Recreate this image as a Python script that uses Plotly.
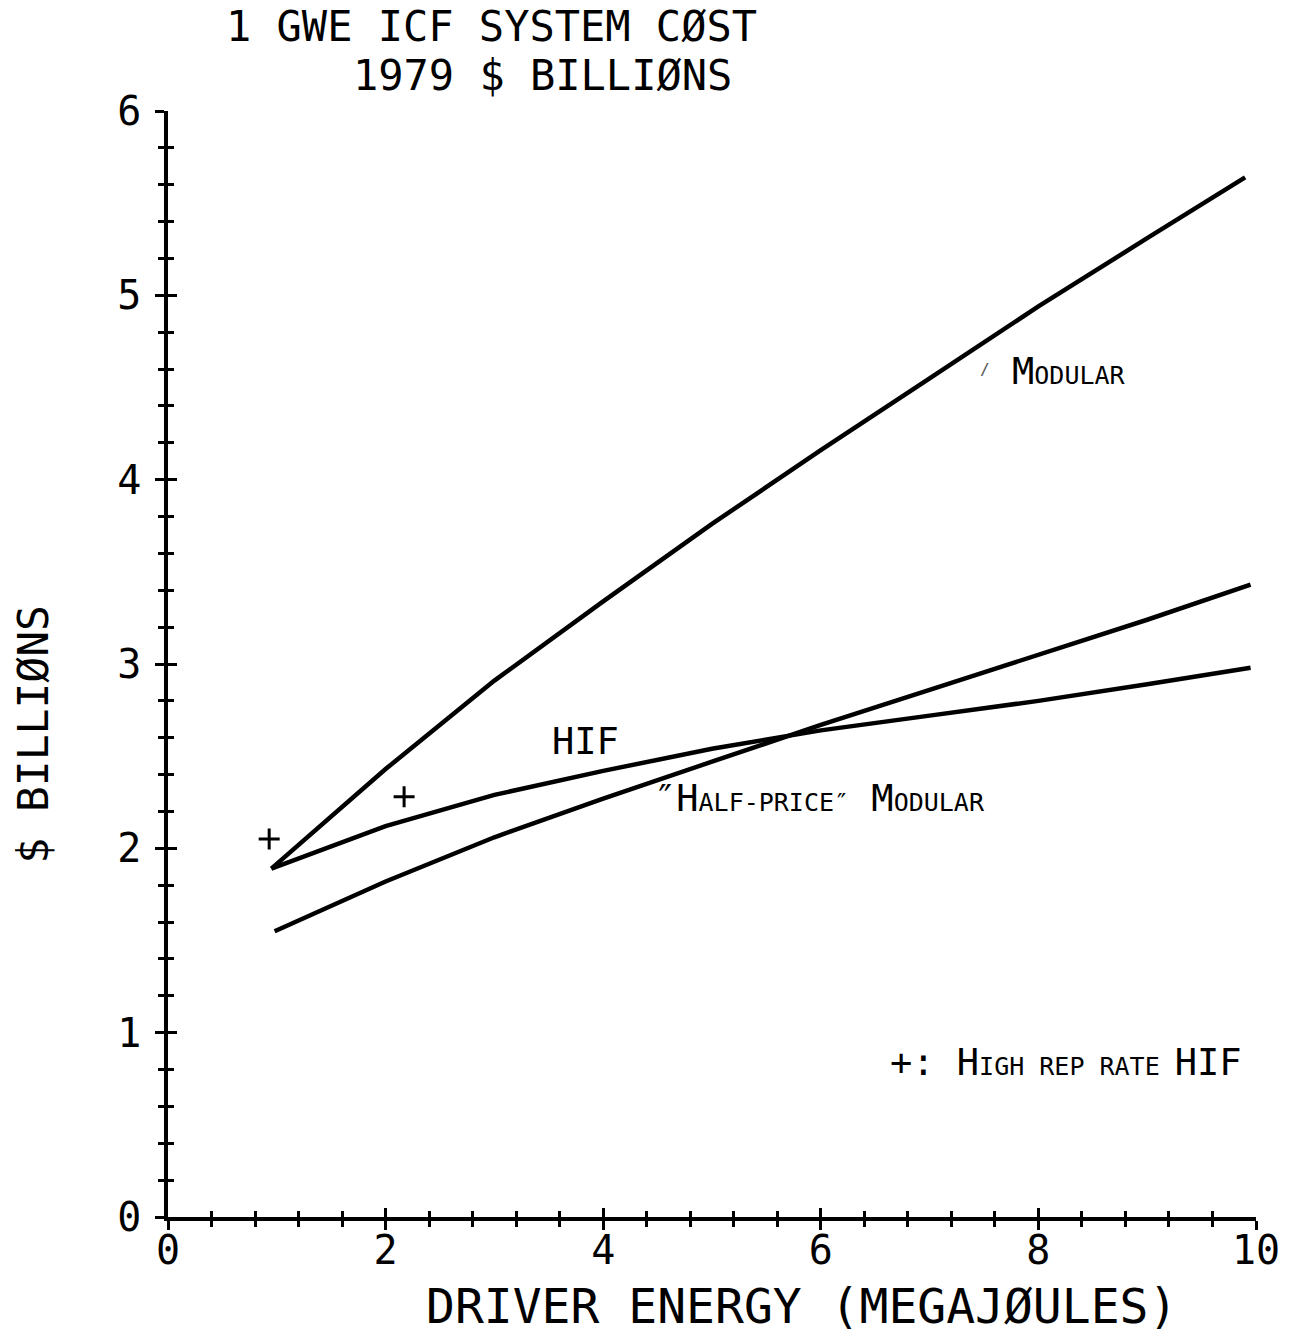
import plotly.graph_objects as go

# ---- data ----
modular_x = [0.95, 2, 3, 4, 5, 6, 7, 8, 9, 9.90]
modular_y = [1.89, 2.43, 2.91, 3.34, 3.76, 4.16, 4.55, 4.94, 5.31, 5.64]

hif_x = [0.95, 2, 3, 4, 5, 6, 7, 8, 9, 9.95]
hif_y = [1.89, 2.12, 2.29, 2.42, 2.54, 2.64, 2.72, 2.80, 2.89, 2.98]

half_x = [0.98, 2, 3, 4, 5, 6, 7, 8, 9, 9.95]
half_y = [1.55, 1.82, 2.06, 2.27, 2.47, 2.67, 2.86, 3.05, 3.24, 3.43]

highrep_x = [0.93, 2.17]
highrep_y = [2.05, 2.28]

x_ticks = [0, 2, 4, 6, 8, 10]
y_ticks = [0, 1, 2, 3, 4, 5, 6]

FONT = "DejaVu Sans Mono"
BIG = 37
SMALL = 25


def sc(s):
    return f"<span style='font-size:{SMALL}px'>{s}</span>"


line_style = dict(color="black", width=4.5)

fig = go.Figure()
fig.add_trace(go.Scatter(x=modular_x, y=modular_y, mode="lines", line=line_style,
                         name="Modular", showlegend=False))
fig.add_trace(go.Scatter(x=hif_x, y=hif_y, mode="lines", line=line_style,
                         name="HIF", showlegend=False))
fig.add_trace(go.Scatter(x=half_x, y=half_y, mode="lines", line=line_style,
                         name="Half-price Modular", showlegend=False))
fig.add_trace(go.Scatter(x=highrep_x, y=highrep_y, mode="markers",
                         marker=dict(symbol="cross-thin", size=15,
                                     line=dict(color="black", width=3)),
                         name="High rep rate HIF", showlegend=False))
# invisible trace so the overlay axes (inner halves of the crossing ticks) are drawn
fig.add_trace(go.Scatter(x=highrep_x, y=highrep_y, xaxis="x2", yaxis="y2",
                         mode="markers", marker=dict(opacity=0), hoverinfo="skip",
                         showlegend=False))

axis_common = dict(showgrid=False, zeroline=False, color="black")
tick_common = dict(ticklen=9, tickwidth=2.5, tickcolor="black")

fig.update_layout(
    width=1292, height=1337,
    margin=dict(l=168, r=29, t=111, b=120),
    paper_bgcolor="white", plot_bgcolor="white",
    font=dict(family=FONT, color="black"),
    xaxis=dict(range=[0, 10], tickvals=x_ticks, ticktext=[str(v) for v in x_ticks],
               ticks="outside", **tick_common,
               showline=True, linewidth=3.5, linecolor="black",
               ticklabelstandoff=-14,
               tickfont=dict(size=40, family=FONT, color="black"),
               minor=dict(dtick=0.4, ticks="outside", ticklen=6, tickwidth=2.5,
                          tickcolor="black", showgrid=False),
               **axis_common),
    yaxis=dict(range=[0, 6], tickvals=y_ticks, ticktext=[str(v) for v in y_ticks],
               ticks="outside", **tick_common,
               showline=True, linewidth=3.5, linecolor="black",
               ticklabelstandoff=6,
               tickfont=dict(size=40, family=FONT, color="black"),
               minor=dict(dtick=0.2, ticks="outside", ticklen=6, tickwidth=2.5,
                          tickcolor="black", showgrid=False),
               **axis_common),
    xaxis2=dict(range=[0, 10], overlaying="x", anchor="y2", side="bottom",
                tickvals=x_ticks, ticks="inside", **tick_common,
                showticklabels=False, showline=False,
                minor=dict(dtick=0.4, ticks="inside", ticklen=6, tickwidth=2.5,
                           tickcolor="black", showgrid=False),
                **axis_common),
    yaxis2=dict(range=[0, 6], overlaying="y", anchor="x2", side="left",
                tickvals=y_ticks, ticks="inside", **tick_common,
                showticklabels=False, showline=False,
                minor=dict(dtick=0.2, ticks="inside", ticklen=6, tickwidth=2.5,
                           tickcolor="black", showgrid=False),
                **axis_common),
)

annotations = [
    # title (two lines, offset as in the original)
    dict(text="1 GWE ICF SYSTEM CØST", x=0.297, y=1.076, xref="paper", yref="paper",
         xanchor="center", yanchor="middle", showarrow=False, font=dict(size=42)),
    dict(text="1979 $ BILLIØNS", x=0.344, y=1.0325, xref="paper", yref="paper",
         xanchor="center", yanchor="middle", showarrow=False, font=dict(size=42)),
    # axis titles
    dict(text="DRIVER ENERGY (MEGAJØULES)", x=0.582, y=-0.1080, xref="paper", yref="paper",
         xanchor="center", yanchor="bottom", showarrow=False, font=dict(size=48)),
    dict(text="$ BILLIØNS", x=-0.124, y=0.436, xref="paper", yref="paper",
         xanchor="center", yanchor="middle", showarrow=False, textangle=-90,
         font=dict(size=43)),
    # curve labels
    dict(text="HIF", x=3.84, y=2.58, xref="x", yref="y", xanchor="center",
         yanchor="middle", showarrow=False, font=dict(size=BIG)),
    dict(text="M" + sc("ODULAR"), x=7.735, y=4.585, xref="x", yref="y",
         xanchor="left", yanchor="middle", showarrow=False, font=dict(size=BIG)),
    dict(text="/", x=7.51, y=4.6, xref="x", yref="y", xanchor="center",
         yanchor="middle", showarrow=False, font=dict(size=16, color="#555555")),
    dict(text="″H" + sc("ALF-PRICE″") + " M" + sc("ODULAR"), x=4.45, y=2.27,
         xref="x", yref="y", xanchor="left", yanchor="middle", showarrow=False,
         font=dict(size=BIG)),
    dict(text="+: H" + sc("IGH REP RATE ") + "HIF", x=6.62, y=0.836,
         xref="x", yref="y", xanchor="left", yanchor="middle", showarrow=False,
         font=dict(size=BIG)),
]
fig.update_layout(annotations=annotations)

fig.write_html("out.html")
